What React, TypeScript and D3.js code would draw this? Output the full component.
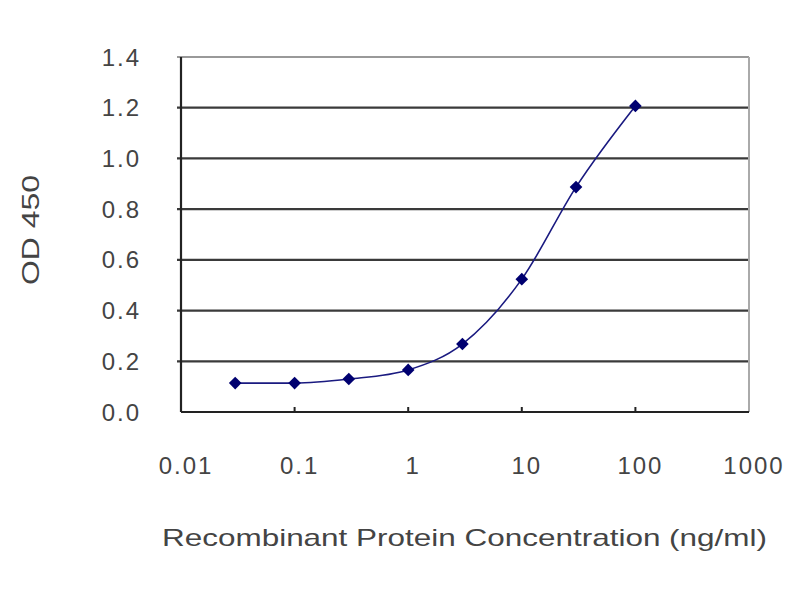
import { useEffect, useRef } from 'react';
import * as d3 from 'd3';

const concentrations = [0.03, 0.1, 0.3, 1, 3, 10, 30, 100];
const odValues = [0.114, 0.114, 0.13, 0.166, 0.268, 0.524, 0.887, 1.207];
const xTicks = [0.01, 0.1, 1, 10, 100, 1000];
const xTickLabels = ['0.01', '0.1', '1', '10', '100', '1000'];
const yTicks = [0, 0.2, 0.4, 0.6, 0.8, 1.0, 1.2, 1.4];
const xTitle = 'Recombinant Protein Concentration (ng/ml)';
const yTitle = 'OD 450';

function App() {
  const ref = useRef<SVGSVGElement>(null);

  useEffect(() => {
    const svg = d3.select(ref.current);
    svg.selectAll('*').remove();

    const left = 181, right = 749, top = 57, bottom = 412;
    const font = 'Liberation Sans, Arial, sans-serif';
    const x = d3.scaleLog().domain([0.01, 1000]).range([left, right]);
    const y = d3.scaleLinear().domain([0, 1.4]).range([bottom, top]);

    svg.append('rect').attr('width', 800).attr('height', 600).attr('fill', '#fff');

    // grid lines
    svg.append('g')
      .selectAll('line')
      .data(yTicks.filter((t) => t > 0 && t < 1.4))
      .enter()
      .append('line')
      .attr('x1', left - 4)
      .attr('x2', right)
      .attr('y1', (d) => y(d))
      .attr('y2', (d) => y(d))
      .attr('stroke', '#3a3a3a')
      .attr('stroke-width', 2.2);

    // top + right border
    svg.append('line').attr('x1', left - 4).attr('x2', right).attr('y1', top).attr('y2', top)
      .attr('stroke', '#999').attr('stroke-width', 2);
    svg.append('line').attr('x1', right).attr('x2', right).attr('y1', top).attr('y2', bottom)
      .attr('stroke', '#aaa').attr('stroke-width', 2);

    // axes
    svg.append('line').attr('x1', left).attr('x2', left).attr('y1', top).attr('y2', bottom)
      .attr('stroke', '#222').attr('stroke-width', 2.2);
    svg.append('line').attr('x1', left).attr('x2', right).attr('y1', bottom).attr('y2', bottom)
      .attr('stroke', '#222').attr('stroke-width', 2.2);

    // x ticks pointing inward
    svg.append('g')
      .selectAll('line')
      .data(xTicks.slice(1, -1))
      .enter()
      .append('line')
      .attr('x1', (d) => x(d))
      .attr('x2', (d) => x(d))
      .attr('y1', bottom)
      .attr('y2', bottom - 5)
      .attr('stroke', '#222')
      .attr('stroke-width', 2);

    // y tick labels
    svg.append('g')
      .selectAll('text')
      .data(yTicks)
      .enter()
      .append('text')
      .attr('x', 141)
      .attr('y', (d) => y(d))
      .attr('dy', '0.36em')
      .attr('text-anchor', 'end')
      .attr('font-family', font)
      .attr('font-size', 24)
      .attr('letter-spacing', 2)
      .attr('fill', '#444')
      .text((d) => d.toFixed(1));

    // x tick labels
    svg.append('g')
      .selectAll('text')
      .data(xTicks)
      .enter()
      .append('text')
      .attr('x', (d) => x(d) + 5)
      .attr('y', 465)
      .attr('dy', '0.36em')
      .attr('text-anchor', 'middle')
      .attr('font-family', font)
      .attr('font-size', 24)
      .attr('letter-spacing', 2)
      .attr('fill', '#444')
      .text((d, i) => xTickLabels[i]);

    // axis titles
    svg.append('text')
      .attr('x', 162)
      .attr('y', 537)
      .attr('dy', '0.36em')
      .attr('font-family', font)
      .attr('font-size', 24)
      .attr('textLength', 605)
      .attr('lengthAdjust', 'spacingAndGlyphs')
      .attr('fill', '#444')
      .text(xTitle);

    svg.append('text')
      .attr('transform', 'translate(30,230) rotate(-90)')
      .attr('x', -55)
      .attr('dy', '0.36em')
      .attr('font-family', font)
      .attr('font-size', 24)
      .attr('textLength', 110)
      .attr('lengthAdjust', 'spacingAndGlyphs')
      .attr('fill', '#444')
      .text(yTitle);

    const pts: [number, number][] = concentrations.map((c, i) => [x(c), y(odValues[i])]);

    const line = d3.line().curve(d3.curveMonotoneX);
    svg.append('path')
      .attr('d', line(pts))
      .attr('fill', 'none')
      .attr('stroke', '#1a1a80')
      .attr('stroke-width', 1.6);

    svg.append('g')
      .selectAll('path')
      .data(pts)
      .enter()
      .append('path')
      .attr('transform', (d) => `translate(${d[0]},${d[1]}) rotate(45)`)
      .attr('d', d3.symbol().type(d3.symbolSquare).size(80))
      .attr('fill', '#000070');
  }, []);

  return (
    <div style={{ position: 'absolute', left: 0, top: 0 }}>
      <svg ref={ref} width={800} height={600} />
    </div>
  );
}

export default App;
